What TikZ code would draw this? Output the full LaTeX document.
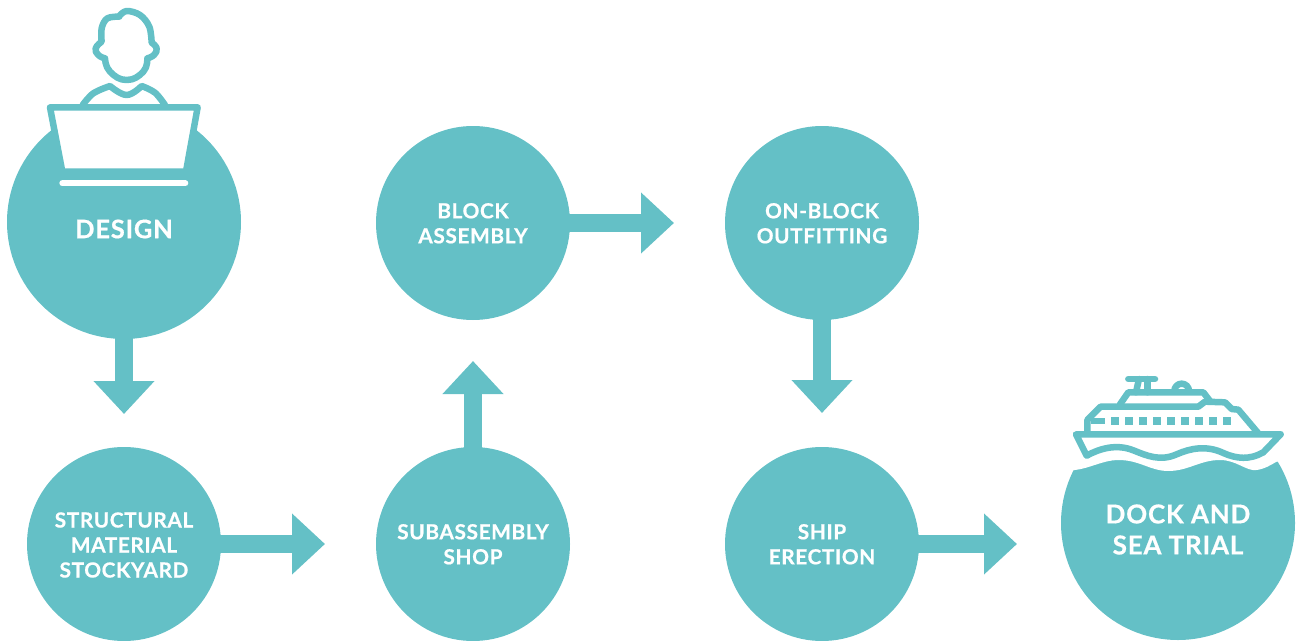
\documentclass[tikz,border=0pt]{standalone}
\usepackage{fontspec}
\setmainfont[LetterSpace=3,BoldFeatures={FakeBold=0.6}]{Lato}
\usetikzlibrary{arrows.meta}
\definecolor{teal1}{HTML}{64C0C6}
\tikzset{
  stage/.style={circle,fill=teal1,draw=none,inner sep=0pt,outer sep=0pt,minimum size=#1},
  stage/.default=194pt,
  caption/.style={text=white,font=\bfseries,align=center,inner sep=0pt},
  small/.style={caption,font=\fontsize{20.8}{25}\selectfont\bfseries},
  flow/.style={draw=teal1,line width=18pt,-{Triangle[length=33pt,width=59pt,fill=teal1]}},
  icon/.style={draw=teal1,line width=6.5pt,line join=round,line cap=round},
}
\begin{document}
\begin{tikzpicture}[x=1pt,y=-1pt]
\useasboundingbox (0,0) rectangle (1301,640);
\clip (0,0) rectangle (1301,640);
\node[stage=234pt] (design) at (124,222) {};
\node[stage] (struct) at (124,544) {};
\node[stage] (sub) at (473,544) {};
\node[stage] (block) at (473,223) {};
\node[stage] (onblock) at (822,223) {};
\node[stage] (erect) at (822,544) {};
\node[stage=234pt] (dock) at (1178,523) {};
\coordinate (dockin) at (dock.west |- erect.east);
% connectors
\draw[flow,shorten <=-2pt,shorten >=33pt] (design.south) -- (struct.north);
\draw[flow,shorten <=-2pt,shorten >=51pt] (struct.east) -- (sub.west);
\draw[flow,shorten <=-2pt,shorten >=41pt] (sub.north) -- (block.south);
\draw[flow,shorten <=-2pt,shorten >=51pt] (block.east) -- (onblock.west);
\draw[flow,shorten <=-2pt,shorten >=34pt] (onblock.south) -- (erect.north);
\draw[flow,shorten <=-2pt,shorten >=44pt] (erect.east) -- (dockin);
% labels
\node[caption,font=\fontsize{25.5}{30}\selectfont\bfseries] (t1) at (124,229) {DESIGN};
\node[small] (t2) at (124,545) {STRUCTURAL\\MATERIAL\\STOCKYARD};
\node[small] (t3) at (473,544.3) {SUBASSEMBLY\\SHOP};
\node[small] (t4) at (473,223.3) {BLOCK\\ASSEMBLY};
\node[small] (t5) at (822,223.3) {ON-BLOCK\\OUTFITTING};
\node[small] (t6) at (822,544.3) {SHIP\\ERECTION};
\node[caption,font=\fontsize{26}{31}\selectfont\bfseries] (t7) at (1178,529.5) {DOCK AND\\SEA TRIAL};
% person
\begin{scope}[shift={(30,0)},x=0.3333pt,y=-0.3333pt]
\draw[icon] plot[smooth,tension=0.6] coordinates{(268,48) (290,33) (330,45) (358,80) (365,128)}
  -- plot[smooth,tension=0.8] coordinates{(365,128) (380,145) (372,165) (352,175)}
  -- plot[smooth,tension=0.8] coordinates{(352,175) (340,215) (290,240) (240,215) (225,175)}
  -- plot[smooth,tension=0.8] coordinates{(225,175) (205,165) (197,145) (215,125)}
  -- plot[smooth,tension=0.6] coordinates{(215,125) (215,85) (232,55) (268,50)};
\draw[icon] plot[smooth,tension=0.6] coordinates{(158,315) (190,280) (240,258)}
  -- plot[smooth,tension=0.7] coordinates{(240,258) (290,285) (335,258)}
  -- plot[smooth,tension=0.6] coordinates{(335,258) (375,278) (405,315)};
\draw[icon,fill=white] (60,322) -- (503,322) -- (468,515) -- (97,515) -- cycle;
\draw[line width=6pt,draw=white,line cap=round] (97,550) -- (466,550);
\end{scope}
% ship
\begin{scope}[shift={(1060,365)},x=0.3333pt,y=-0.3333pt]
\fill[white] (0,318) -- (45,315) .. controls (90,310) and (130,285) .. (175,285) .. controls (240,285) and (270,318) .. (325,318) .. controls (385,318) and (420,285) .. (480,285) .. controls (530,285) and (560,320) .. (590,315) .. controls (615,312) and (635,298) .. (650,290) -- (710,290) -- (710,0) -- (0,0) -- cycle;
\draw[icon] (82,205) -- (82,165) -- (122,125) -- (415,125) -- (435,110) -- (495,112) -- (515,132) -- (535,134) -- (595,205);
\draw[icon] (180,118) -- (205,82) -- (430,82) -- (450,108);
\draw[icon] (205,42) -- (285,42);
\draw[icon] (237,42) -- (228,82);
\draw[icon] (262,42) -- (262,82);
\draw[icon] (343,78) arc[start angle=180,end angle=360,radius=22];
\draw[icon,line cap=butt] (92,168) -- (135,168);
\foreach \wx in {165,207,249,291,333,375,417,459,501}
  \fill[teal1] (\wx-12,156) rectangle (\wx+12,180);
\draw[icon,fill=white] (48,208) -- (662,208) -- (610,262) .. controls (570,285) and (530,282) .. (490,264) .. controls (440,240) and (390,250) .. (350,268) .. controls (300,290) and (260,272) .. (220,256) .. controls (170,236) and (120,250) .. (80,272) -- cycle;
\end{scope}
\end{tikzpicture}
\end{document}
